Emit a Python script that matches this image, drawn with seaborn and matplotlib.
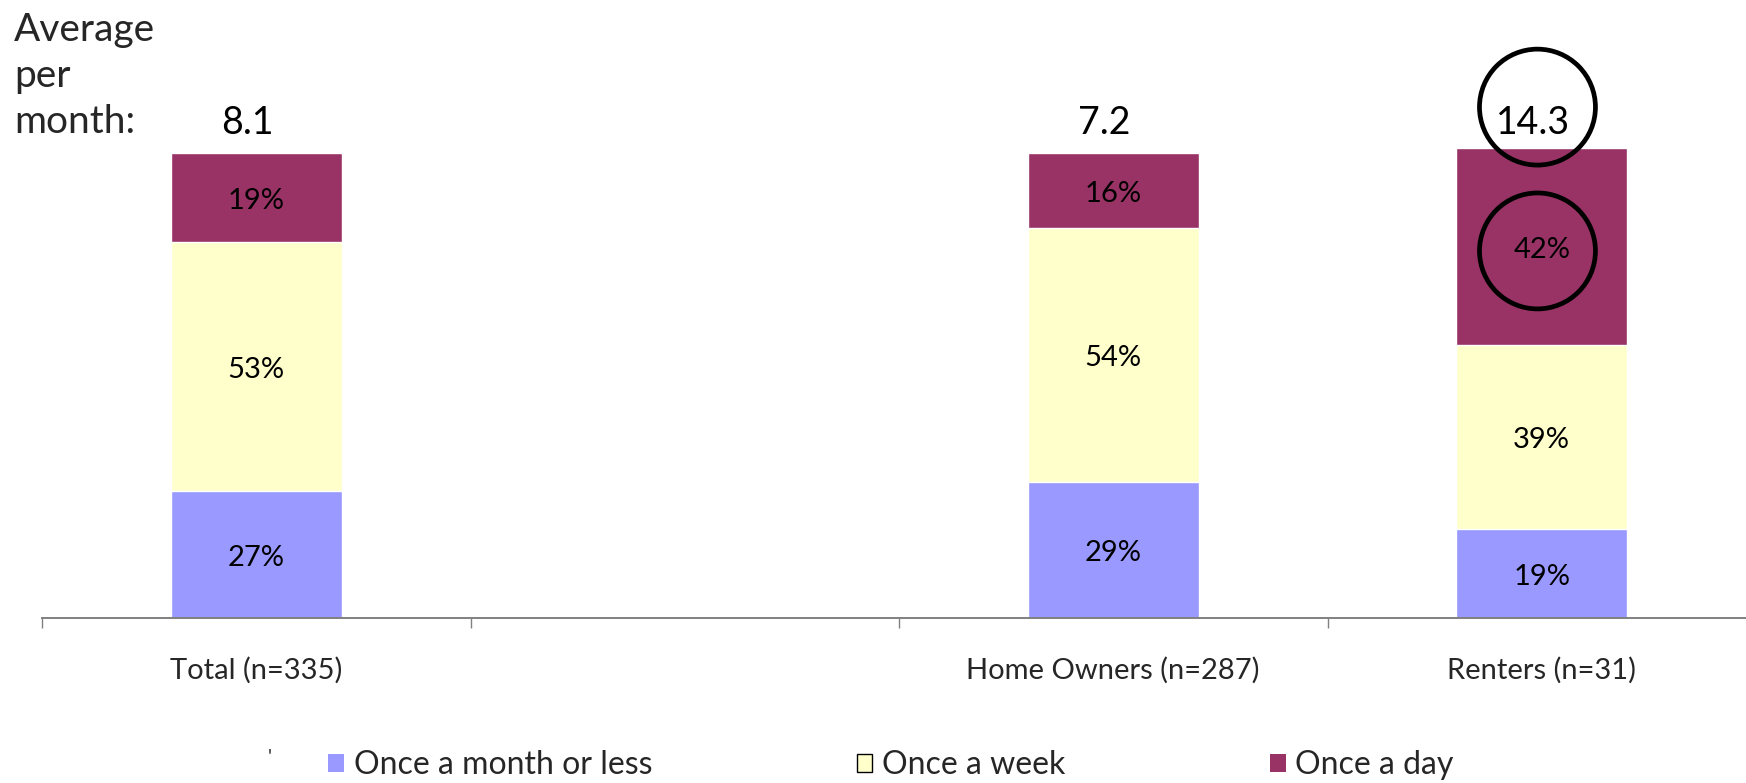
import numpy as np
import pandas as pd
import matplotlib
matplotlib.use("Agg")
import matplotlib.pyplot as plt
from matplotlib.patches import Patch
import seaborn as sns

# data
groups = ["Total (n=335)", "Home Owners (n=287)", "Renters (n=31)"]
slot_order = ["Total (n=335)", " ", "Home Owners (n=287)", "Renters (n=31)"]
once_month = [27, 29, 19]
once_week = [53, 54, 39]
once_day = [19, 16, 42]
avg_per_month = ["8.1", "7.2", "14.3"]
series_names = ["Once a month or less", "Once a week", "Once a day"]
colors = ["#9999FF", "#FFFFCC", "#993366"]

sns.set_theme(style="white")
plt.rcParams["font.family"] = ["Lato", "DejaVu Sans"]

df = pd.DataFrame({"group": groups, "month": once_month, "week": once_week, "day": once_day})
df["cum_week"] = df["month"] + df["week"]
df["cum_day"] = df["cum_week"] + df["day"]

fig = plt.figure(figsize=(17.46, 7.83), dpi=100)
ax = fig.add_axes([42 / 1746, 1 - 618 / 783, 1714 / 1746, 517 / 783])

# stack by overdrawing cumulative totals, tallest first
for col, c in zip(["cum_day", "cum_week", "month"], colors[::-1]):
    sns.barplot(data=df, x="group", y=col, order=slot_order, color=c,
                saturation=1, width=0.4, errorbar=None, ax=ax)

ax.set_ylim(0, 110)
ax.set_xlim(-0.5, 3.5)
ax.set_xlabel("")
ax.set_ylabel("")
ax.set_yticks([])
for s in ["left", "right", "top"]:
    ax.spines[s].set_visible(False)
ax.spines["bottom"].set_color("#808080")
ax.spines["bottom"].set_linewidth(1.4)

# ticks on slot boundaries, labels under slot centres
ax.set_xticks(np.arange(-0.5, 4, 1))
ax.set_xticklabels([])
ax.set_xticks(range(4), minor=True)
ax.set_xticklabels(slot_order, minor=True, fontsize=21)
ax.tick_params(axis="x", which="major", direction="out", length=7, width=1,
               color="#808080", bottom=True)
ax.tick_params(axis="x", which="minor", length=0, pad=28)

# segment labels
xpos = [slot_order.index(g) for g in groups]
for i, x in enumerate(xpos):
    bottoms = [0, once_month[i], once_month[i] + once_week[i]]
    for b, v in zip(bottoms, [once_month[i], once_week[i], once_day[i]]):
        ax.text(x, b + v / 2 - 0.7, f"{v}%", ha="center", va="center", fontsize=21, color="black")
    ax.text(x - 0.02, 105.4, avg_per_month[i], ha="center", va="center", fontsize=27,
            color="black", clip_on=False)

fig.text(14 / 1746, 1 - 30 / 783, "Average", fontsize=28, va="center", ha="left")
fig.text(14 / 1746, 1 - 76 / 783, "per", fontsize=28, va="center", ha="left")
fig.text(14 / 1746, 1 - 122 / 783, "month:", fontsize=28, va="center", ha="left")

# highlight circles on renters
rx = xpos[2] - 0.01
ax.scatter([rx, rx], [108.7, once_month[2] + once_week[2] + once_day[2] / 2 - 0.9],
           s=6970, facecolors="none", edgecolors="black", linewidths=3.4,
           clip_on=False, zorder=5)

fig.text(270 / 1746, 1 - 757 / 783, "'", fontsize=14, ha="center", va="center")

handles = [Patch(facecolor=colors[0], edgecolor="none"),
           Patch(facecolor=colors[1], edgecolor="black", linewidth=1),
           Patch(facecolor=colors[2], edgecolor="none")]
fig.legend(handles, series_names, loc="center left", bbox_to_anchor=(328 / 1746, 18 / 783),
           ncol=3, frameon=False, fontsize=23, handlelength=0.5, handleheight=0.5,
           handletextpad=0.3, columnspacing=6.4, borderpad=0, borderaxespad=0)

fig.savefig("out.png", dpi=100)
